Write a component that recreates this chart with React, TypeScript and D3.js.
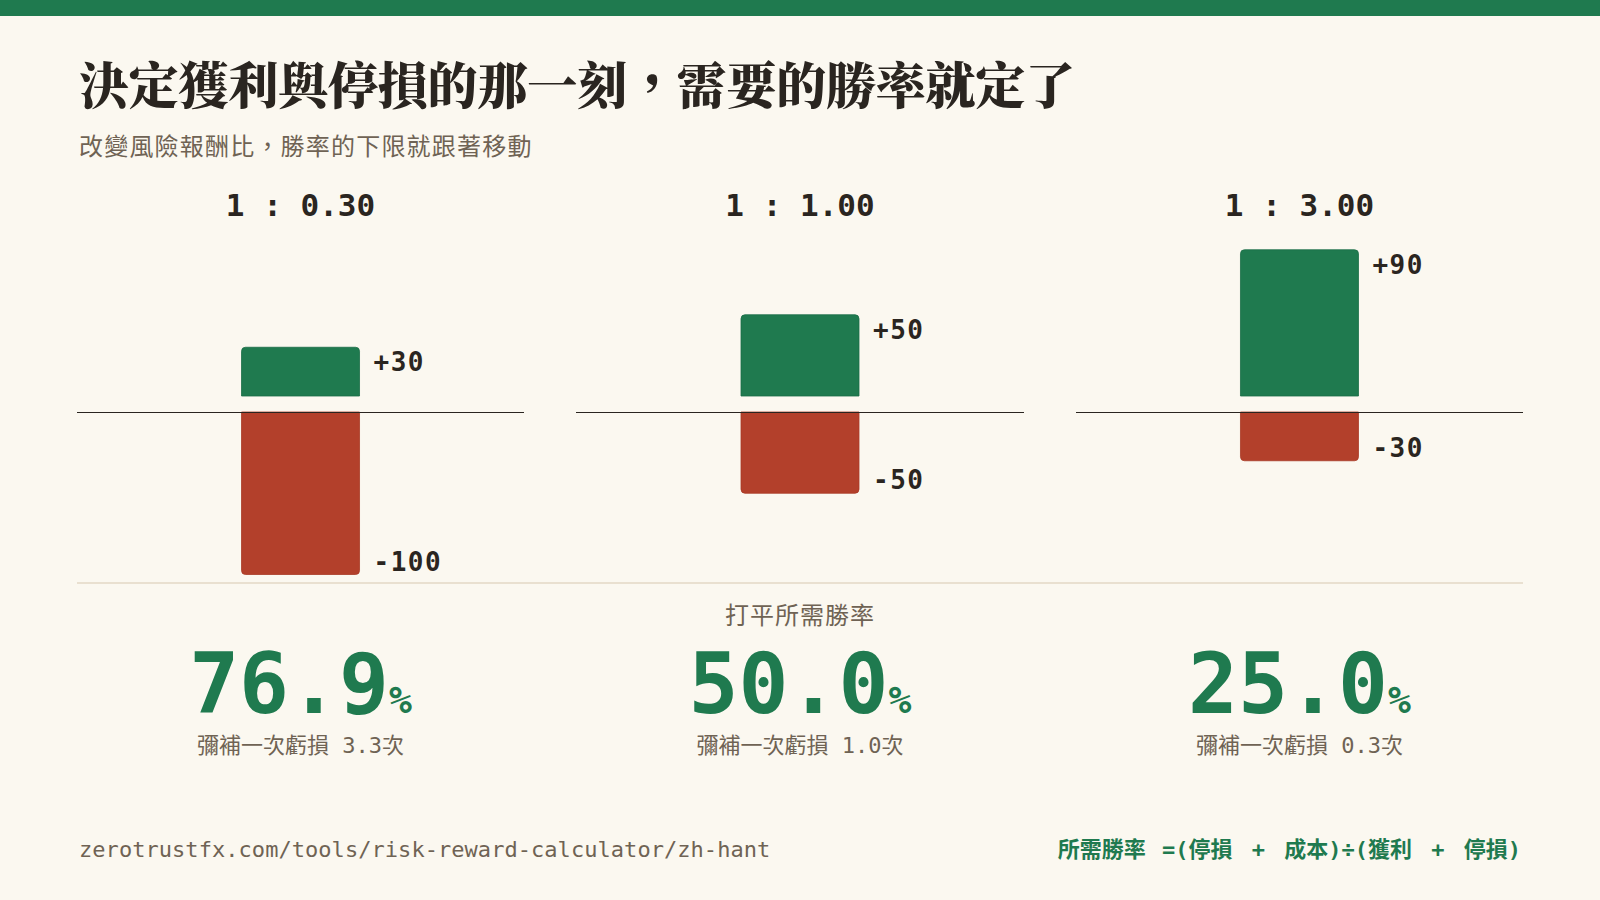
import React from "react";
import * as d3 from "d3";

const ratioLabels = ["1 : 0.30", "1 : 1.00", "1 : 3.00"];
const rewardValues = [30, 50, 90];
const riskValues = [100, 50, 30];
const winRates = ["76.9", "50.0", "25.0"];
const recoverCounts = ["3.3", "1.0", "0.3"];

const TITLE = "決定獲利與停損的那一刻，需要的勝率就定了";
const SUBTITLE = "改變風險報酬比，勝率的下限就跟著移動";
const MID_LABEL = "打平所需勝率";
const SUB_PREFIX = "彌補一次虧損 ";
const SUB_SUFFIX = "次";
const URL_TEXT = "zerotrustfx.com/tools/risk-reward-calculator/zh-hant";

const W = 1600;
const H = 900;
const BG = "#fbf8f0";
const GREEN = "#1f7a4f";
const RED = "#b3402b";
const DARK = "#2a2520";
const GRAY = "#6f6354";
const MONO = "'DejaVu Sans Mono', 'Liberation Mono', 'Noto Sans CJK TC', monospace";
const CJK = "'Noto Sans CJK TC', 'Noto Sans CJK SC', sans-serif";
const SERIF_CJK = "'Noto Serif CJK TC', 'Noto Sans CJK TC', serif";

const BASE_Y = 412;
const GAP = 16;
const BAR_W = 118;
const R = 4;

function topRounded(x: number, y: number, w: number, h: number, r: number) {
  const p = d3.path();
  p.moveTo(x, y + h);
  p.lineTo(x, y + r);
  p.quadraticCurveTo(x, y, x + r, y);
  p.lineTo(x + w - r, y);
  p.quadraticCurveTo(x + w, y, x + w, y + r);
  p.lineTo(x + w, y + h);
  p.closePath();
  return p.toString();
}

function bottomRounded(x: number, y: number, w: number, h: number, r: number) {
  const p = d3.path();
  p.moveTo(x, y);
  p.lineTo(x + w, y);
  p.lineTo(x + w, y + h - r);
  p.quadraticCurveTo(x + w, y + h, x + w - r, y + h);
  p.lineTo(x + r, y + h);
  p.quadraticCurveTo(x, y + h, x, y + h - r);
  p.closePath();
  return p.toString();
}

export default function App() {
  const xBand = d3
    .scaleBand<number>()
    .domain(d3.range(ratioLabels.length))
    .range([77, 1523])
    .paddingInner(0.105)
    .paddingOuter(0);
  const h = d3.scaleLinear().domain([0, 100]).range([0, 162.5]);

  return (
    <div style={{ position: "absolute", left: 0, top: 0, width: W, height: H }}>
      <svg width={W} height={H} viewBox={`0 0 ${W} ${H}`} style={{ display: "block" }}>
        <rect x={0} y={0} width={W} height={H} fill={BG} />
        <rect x={0} y={0} width={W} height={16} fill={GREEN} />

        <text x={79} y={104} fontFamily={SERIF_CJK} fontWeight={900} fontSize={50} letterSpacing={-0.2} fill={DARK}>
          {TITLE}
        </text>
        <text x={79} y={155} fontFamily={CJK} fontSize={24} letterSpacing={1.2} fill={GRAY}>
          {SUBTITLE}
        </text>

        {ratioLabels.map((lab, i) => {
          const x0 = xBand(i) as number;
          const bw = xBand.bandwidth();
          const cx = x0 + bw / 2;
          const gh = h(rewardValues[i]);
          const rh = h(riskValues[i]);
          const gTop = BASE_Y - GAP - gh;
          const rBot = BASE_Y + rh;
          return (
            <g key={lab}>
              <text x={cx} y={216} textAnchor="middle" fontFamily={MONO} fontWeight={700} fontSize={31} fill={DARK} style={{ whiteSpace: "pre" }}>
                {lab}
              </text>
              <path d={topRounded(cx - BAR_W / 2, gTop, BAR_W, gh, R)} fill={GREEN} stroke="#1a6d46" strokeWidth={0.8} />
              <path d={bottomRounded(cx - BAR_W / 2, BASE_Y, BAR_W, rh, R)} fill={RED} stroke="#a83a26" strokeWidth={0.8} />
              <line x1={x0} x2={x0 + bw} y1={BASE_Y + 0.5} y2={BASE_Y + 0.5} stroke={DARK} strokeWidth={1.2} shapeRendering="crispEdges" />
              <text x={cx + BAR_W / 2 + 14} y={gTop + 24} fontFamily={MONO} fontWeight={700} fontSize={26} letterSpacing={1.5} fill={DARK}>
                {`+${rewardValues[i]}`}
              </text>
              <text x={cx + BAR_W / 2 + 14} y={rBot - 4} fontFamily={MONO} fontWeight={700} fontSize={26} letterSpacing={1.5} fill={DARK}>
                {`-${riskValues[i]}`}
              </text>
              <text x={cx} y={713} textAnchor="middle" fontFamily={MONO} fontWeight={700} fill={GREEN}>
                <tspan fontSize={83}>{winRates[i]}</tspan>
                <tspan fontSize={38}>%</tspan>
              </text>
              <text x={cx} y={753} textAnchor="middle" fontFamily={MONO} fontSize={22} fill={GRAY} style={{ whiteSpace: "pre" }}>
                {`${SUB_PREFIX}${recoverCounts[i]}${SUB_SUFFIX}`}
              </text>
            </g>
          );
        })}

        <line x1={77} x2={1523} y1={583} y2={583} stroke="#e3d9c6" strokeWidth={1.5} />
        <text x={800} y={624} textAnchor="middle" fontFamily={CJK} fontSize={24} letterSpacing={1} fill={GRAY}>
          {MID_LABEL}
        </text>

        <text x={79} y={857} fontFamily={MONO} fontSize={22} letterSpacing={0.05} fill={GRAY}>
          {URL_TEXT}
        </text>
        <text x={1521} y={857} textAnchor="end" fontFamily={MONO} fontWeight={700} fontSize={22} fill={GREEN} style={{ whiteSpace: "pre" }}>
          <tspan>{"所需勝率"}</tspan>
          <tspan dx={3}>{" =(停損 "}</tspan>
          <tspan dx={6}>{"+"}</tspan>
          <tspan dx={6}>{" 成本)÷(獲利 "}</tspan>
          <tspan dx={6}>{"+"}</tspan>
          <tspan dx={6}>{" 停損)"}</tspan>
        </text>
      </svg>
    </div>
  );
}
